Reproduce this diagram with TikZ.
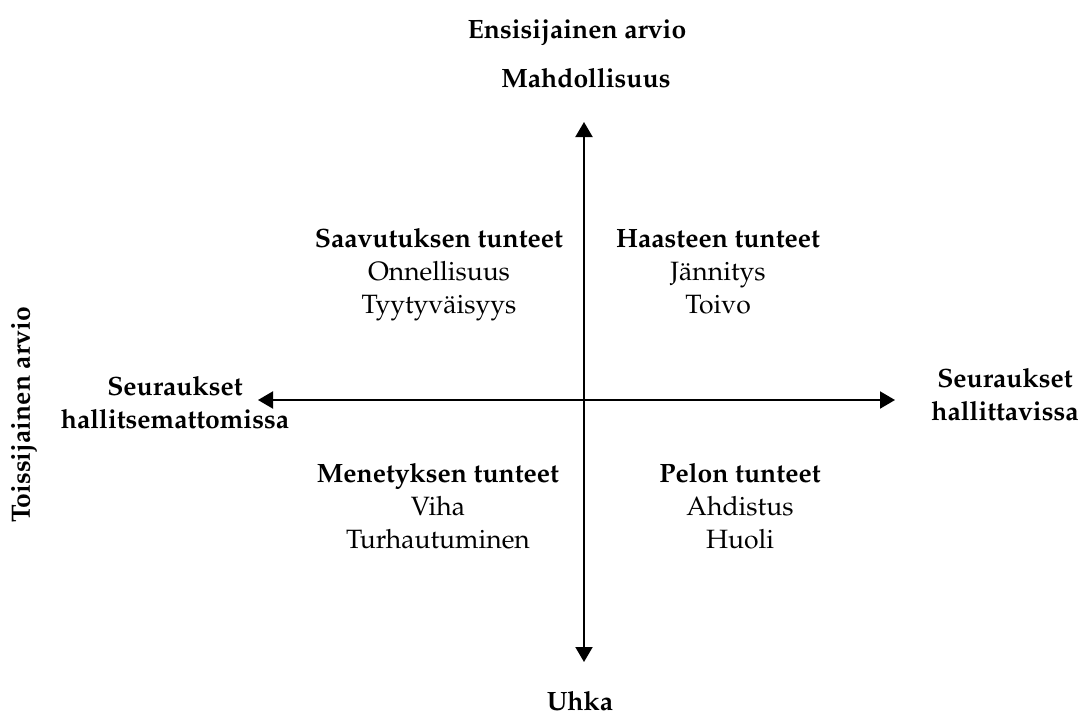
\documentclass[tikz,border=0pt]{standalone}
\usepackage[T1]{fontenc}
\usepackage{mathpazo}
\usetikzlibrary{arrows.meta}
\begin{document}
\begin{tikzpicture}[x=0.5pt,y=-0.5pt,
  lab/.style={font=\fontsize{13.25}{16.4}\selectfont\bfseries, align=center, inner sep=0pt, anchor=base},
  quad/.style={font=\fontsize{13.25}{16.4}\selectfont, align=center, inner sep=0pt, anchor=base},
  axis/.style={line width=1pt, {Triangle[width=8.5pt,length=7.5pt]}-{Triangle[width=8.5pt,length=7.5pt]}}]
\useasboundingbox (0,0) rectangle (1083,714);
% axes
\coordinate (top) at (584,122);
\coordinate (bot) at (584,662);
\coordinate (lft) at (258,400);
\coordinate (rgt) at (895,400);
\draw[axis] (bot) -- (top);
\draw[axis] (lft) -- (rgt);
% axis labels (base = last line baseline)
\node[lab] (ens) at (577,38) {Ensisijainen arvio};
\node[lab] (mah) at (586,87) {Mahdollisuus};
\node[lab] (uhka) at (580,710) {Uhka};
\node[lab, rotate=90, anchor=center] (tois) at (24,415) {Toissijainen arvio};
\node[lab] (left) at (175,428) {Seuraukset\\hallitsemattomissa};
\node[lab] (right) at (1005,420) {Seuraukset\\hallittavissa};
% quadrants
\node[quad] (q1) at (439,313) {\textbf{Saavutuksen tunteet}\\Onnellisuus\\Tyytyv\"aisyys};
\node[quad] (q2) at (718,313) {\textbf{Haasteen tunteet}\\J\"annitys\\Toivo};
\node[quad] (q3) at (438,548) {\textbf{Menetyksen tunteet}\\Viha\\Turhautuminen};
\node[quad] (q4) at (740,548) {\textbf{Pelon tunteet}\\Ahdistus\\Huoli};
\end{tikzpicture}
\end{document}
